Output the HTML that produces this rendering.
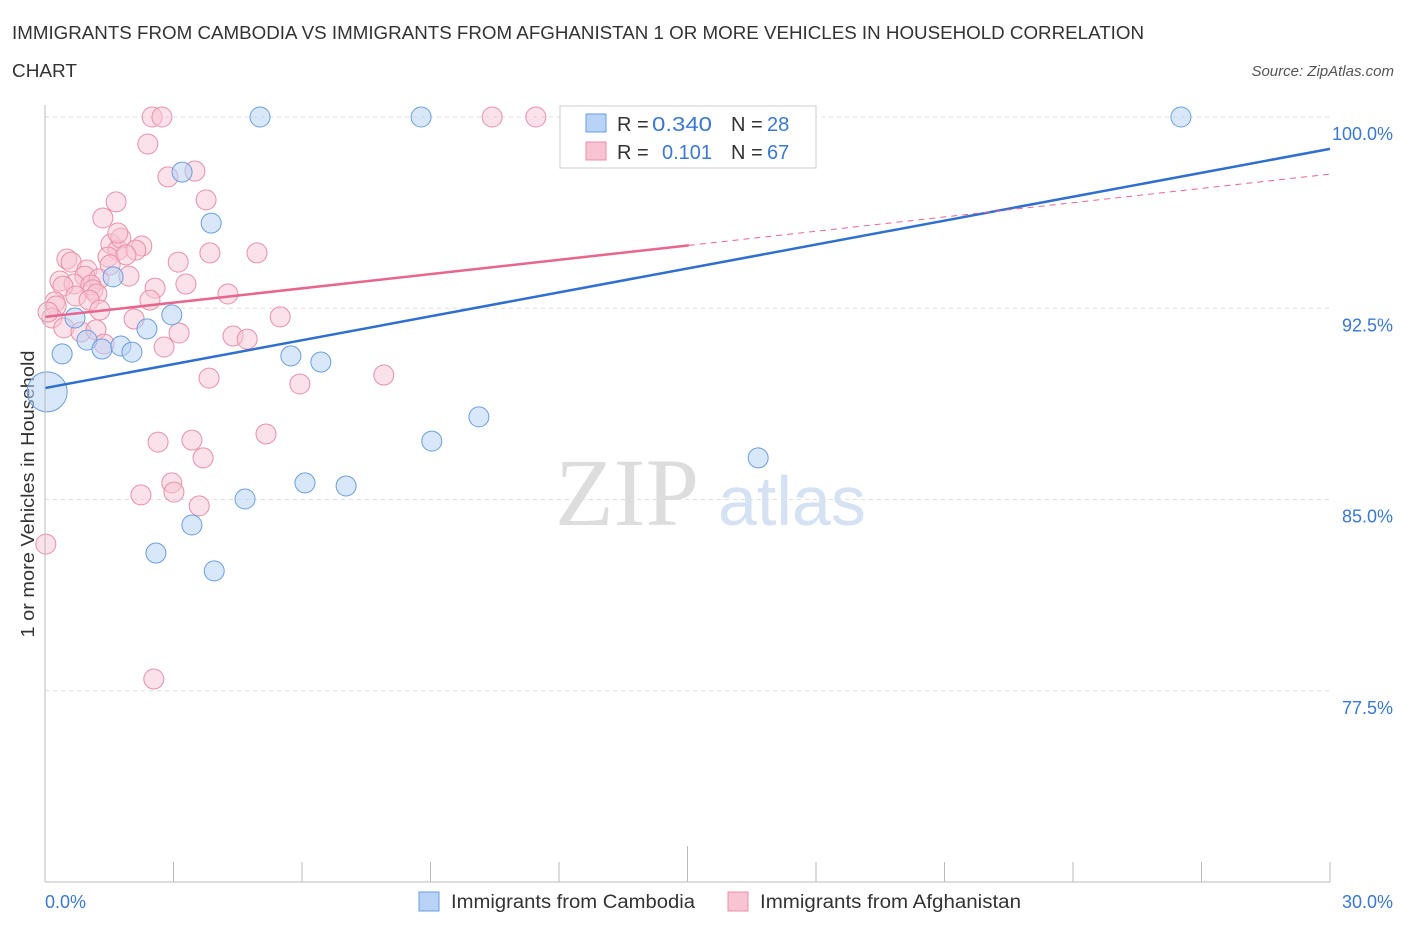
<!DOCTYPE html>
<html><head><meta charset="utf-8"><style>
body{margin:0;background:#fff;font-family:"Liberation Sans",sans-serif}
</style></head><body>
<svg id="c" width="1406" height="930" xmlns="http://www.w3.org/2000/svg" font-family="Liberation Sans, sans-serif">
<text x="12" y="39" font-size="18" fill="#333" textLength="1132" lengthAdjust="spacingAndGlyphs">IMMIGRANTS FROM CAMBODIA VS IMMIGRANTS FROM AFGHANISTAN 1 OR MORE VEHICLES IN HOUSEHOLD CORRELATION</text>
<text x="12" y="77" font-size="18" fill="#333" textLength="65" lengthAdjust="spacingAndGlyphs">CHART</text>
<text x="1394" y="76" font-size="15" fill="#555" text-anchor="end" font-style="italic">Source: ZipAtlas.com</text>
<text transform="translate(34,494) rotate(-90)" font-size="18" fill="#333" text-anchor="middle" textLength="287" lengthAdjust="spacingAndGlyphs">1 or more Vehicles in Household</text>
<text x="555" y="525" font-size="96" font-family="Liberation Serif, serif" fill="#ddd">ZIP</text>
<text x="718" y="525" font-size="70" fill="#d5e2f3">atlas</text>
<g id="grid"></g><g id="pts"></g><g id="lines"></g>
<line x1="45" y1="882" x2="1330" y2="882" stroke="#bbb"/>
<line x1="45" y1="105" x2="45" y2="882" stroke="#bbb"/>
<g>
<rect x="560" y="106" width="256" height="62" fill="#fff" stroke="#ccc"/>
<rect x="586" y="114" width="20" height="18" fill="#b8d3f5" stroke="#6a9ee0"/>
<rect x="586" y="142" width="20" height="18" fill="#f8c4d3" stroke="#e890a8"/>
<text x="617" y="131" font-size="20" fill="#333">R =</text>
<text x="652" y="131" font-size="20" fill="#3a78d4" textLength="60" lengthAdjust="spacingAndGlyphs">0.340</text>
<text x="731" y="131" font-size="20" fill="#333">N =</text>
<text x="767" y="131" font-size="20" fill="#3a78d4">28</text>
<text x="617" y="159" font-size="20" fill="#333">R =</text>
<text x="662" y="159" font-size="20" fill="#3a78d4" textLength="50" lengthAdjust="spacingAndGlyphs">0.101</text>
<text x="731" y="159" font-size="20" fill="#333">N =</text>
<text x="767" y="159" font-size="20" fill="#3a78d4">67</text>
</g>
<g>
<rect x="419" y="892" width="20" height="19" fill="#b8d3f5" stroke="#6a9ee0"/>
<text x="451" y="908" font-size="19" fill="#333" textLength="244" lengthAdjust="spacingAndGlyphs">Immigrants from Cambodia</text>
<rect x="728" y="892" width="20" height="19" fill="#f8c4d3" stroke="#e890a8"/>
<text x="760" y="908" font-size="19" fill="#333" textLength="261" lengthAdjust="spacingAndGlyphs">Immigrants from Afghanistan</text>
</g>
<text x="45" y="908" font-size="18" fill="#3a78d4">0.0%</text>
<text x="1393" y="908" font-size="18" fill="#3a78d4" text-anchor="end">30.0%</text>
</svg>
<script>
const blueX=[5.02,8.78,12.91,26.52,3.20,3.88,1.59,0.70,2.38,2.96,0.98,0.40,1.33,1.77,2.03,5.74,6.44,10.13,9.03,16.65,6.07,7.03,4.67,3.43,2.59,3.95,0.05];
const blueY=[100,100,100,100,97.84,95.84,93.73,92.12,91.69,92.24,91.25,90.71,90.90,91.02,90.78,90.63,90.39,88.24,87.29,86.63,85.65,85.53,85.02,84.00,82.90,82.20,89.22];
const pinkX=[2.50,2.73,10.44,11.46,2.40,2.87,3.50,3.76,1.66,1.35,3.85,4.95,2.26,1.54,1.70,1.77,2.12,1.47,1.89,0.51,0.61,3.11,0.98,0.93,1.26,1.96,0.35,0.68,1.07,1.12,0.42,1.21,0.72,1.03,2.57,3.29,4.27,0.23,0.26,0.16,0.44,0.84,1.19,2.08,5.49,3.13,4.39,4.72,1.38,2.78,3.83,5.95,7.91,5.16,2.64,3.43,3.69,2.96,3.01,2.24,3.60,0.02,2.54,1.28,1.70,0.07,1.52,2.45];
const pinkY=[100,100,100,100,98.94,97.65,97.88,96.75,96.67,96.04,94.67,94.67,94.94,95.02,94.78,95.25,94.78,94.51,94.59,94.43,94.31,94.31,94.0,93.76,93.65,93.76,93.57,93.45,93.41,93.22,93.37,93.06,92.98,92.82,93.29,93.45,93.06,92.75,92.59,92.12,91.73,91.57,91.65,92.08,92.16,91.53,91.41,91.29,91.10,90.98,89.76,89.53,89.88,87.57,87.25,87.33,86.63,85.65,85.29,85.18,84.75,83.25,77.96,92.43,95.45,92.35,94.20,92.82];
const yTicks=[100,92.5,85,77.5];
const yTickLabels=["100.0%","92.5%","85.0%","77.5%"];
const xTicks=[0,3,6,9,12,15,18,21,24,27,30];
const blueTrend=[89.37,98.75];
const pinkTrend=[92.16,97.76];
const pinkSolidEnd=15.03;
const ns="http://www.w3.org/2000/svg";
const sx=v=>45+v*1285/30, sy=v=>117+(100-v)*25.5;
function mk(t,a,p){const e=document.createElementNS(ns,t);for(const k in a)e.setAttribute(k,a[k]);p.appendChild(e);return e;}
const g=document.getElementById('grid');
yTicks.forEach((t,i)=>{
 const l=mk('line',{x1:45,x2:1330,y1:sy(t),y2:sy(t),stroke:'#ddd','stroke-dasharray':'4,4'},g);
 
 
 const tx=mk('text',{x:1393,y:sy(t)+23,'font-size':18,fill:'#3a78d4','text-anchor':'end'},g);
 tx.textContent=yTickLabels[i];
 
 
});
xTicks.forEach(t=>{
 const l=mk('line',{x1:sx(t),x2:sx(t),y1:t==15?846:862,y2:882,stroke:'#bbb'},g);
 
 
});
const p=document.getElementById('pts');
pinkX.forEach((x,i)=>{
 const c=mk('circle',{cx:sx(x),cy:sy(pinkY[i]),r:10,fill:'#f8c4d3','fill-opacity':0.5,stroke:'#e890a8','stroke-width':1},p);
 
 
});
blueX.forEach((x,i)=>{
 const c=mk('circle',{cx:sx(x),cy:sy(blueY[i]),r:i==blueX.length-1?20:10,fill:'#b8d3f5','fill-opacity':0.55,stroke:'#6a9ee0','stroke-width':1},p);
 
 
});
const L=document.getElementById('lines');
let e=mk('line',{x1:sx(0),y1:sy(blueTrend[0]),x2:sx(30),y2:sy(blueTrend[1]),stroke:'#2f6fd0','stroke-width':2.5},L);


const pm=pinkTrend[0]+(pinkTrend[1]-pinkTrend[0])*pinkSolidEnd/30;
e=mk('line',{x1:sx(0),y1:sy(pinkTrend[0]),x2:sx(pinkSolidEnd),y2:sy(pm),stroke:'#e8668e','stroke-width':2.5},L);


e=mk('line',{x1:sx(pinkSolidEnd),y1:sy(pm),x2:sx(30),y2:sy(pinkTrend[1]),stroke:'#e8668e','stroke-width':1,'stroke-dasharray':'6,5'},L);


</script>
</body></html>
